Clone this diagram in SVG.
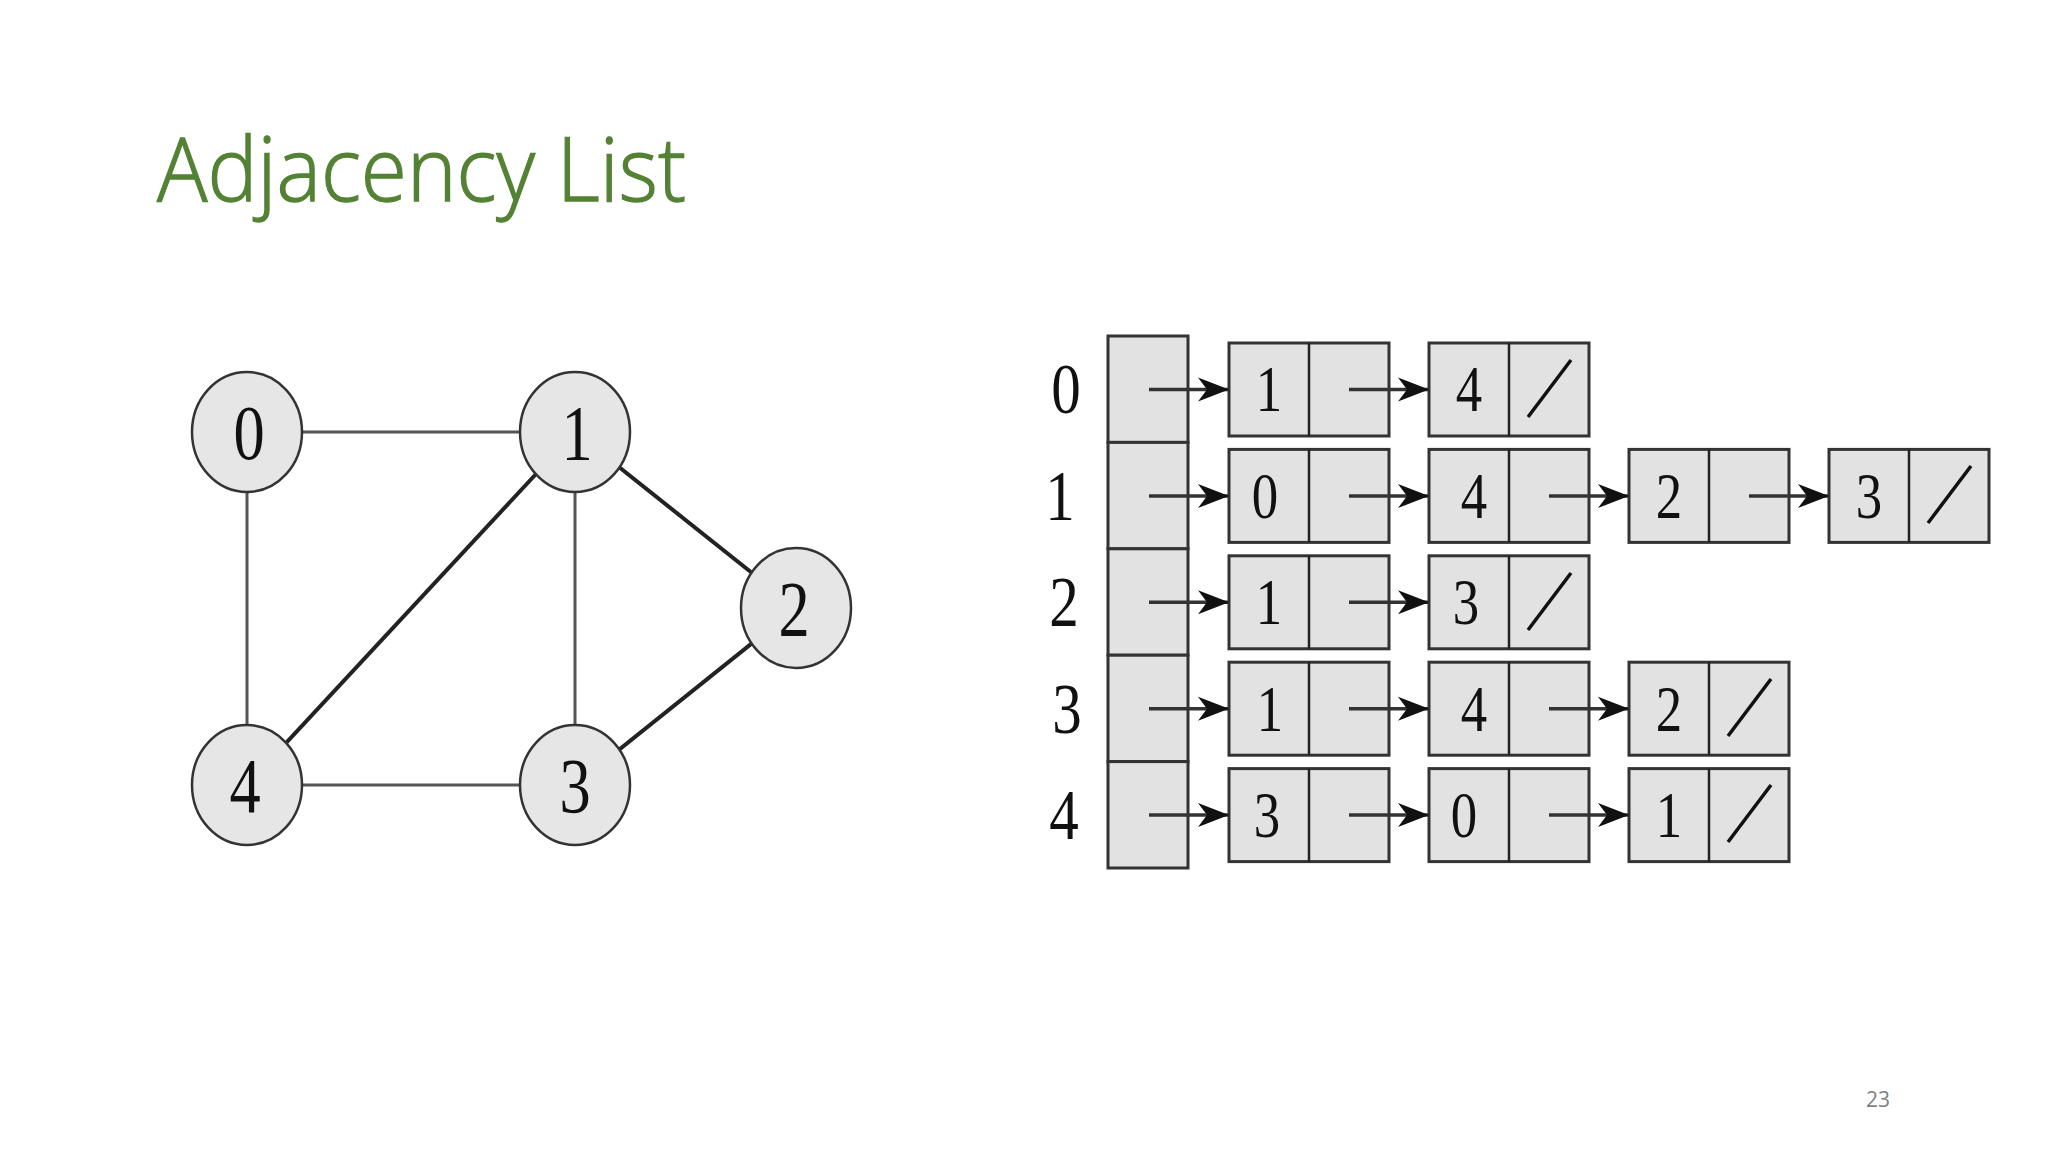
<svg xmlns="http://www.w3.org/2000/svg" width="2048" height="1152" viewBox="0 0 2048 1152">
<defs>
<style>
.title{font-family:"Open Sans","Liberation Sans",sans-serif;font-weight:300;font-size:88px;fill:#548235;stroke:#548235;stroke-width:1.3}
.pg{font-family:"Open Sans","Liberation Sans",sans-serif;font-size:21px;fill:#7f7f7f;text-anchor:middle}
.gnode{fill:#e6e6e6;stroke:#333;stroke-width:2.5}
.glabel{font-family:"Liberation Serif","Times New Roman",serif;font-size:78px;fill:#111;text-anchor:middle}
.thin{stroke:#555;stroke-width:3;fill:none}
.thick{stroke:#222;stroke-width:4;fill:none}
.cell{fill:#e2e2e2;stroke:#333;stroke-width:3}
.div{stroke:#222;stroke-width:2.5}
.num{font-family:"Liberation Serif","Times New Roman",serif;font-size:66px;fill:#111;text-anchor:middle}
.rlab{font-family:"Liberation Serif","Times New Roman",serif;font-size:72px;fill:#111;text-anchor:middle}
.arr{stroke:#333;stroke-width:3.5;fill:none;marker-end:url(#ah)}
.null{stroke:#111;stroke-width:3.5}
</style>
<marker id="ah" markerUnits="userSpaceOnUse" markerWidth="34" markerHeight="28" refX="31" refY="14" orient="auto">
<path d="M0,2 L31,14 L0,26 L9,14 Z" fill="#111"/>
</marker>
</defs>
<rect width="2048" height="1152" fill="#fff"/>
<text class="title" x="157" y="201" textLength="529" lengthAdjust="spacingAndGlyphs">Adjacency List</text>

<g id="edges">
<line class="thin" x1="247" y1="432" x2="575" y2="432"/>
<line class="thin" x1="247" y1="432" x2="247" y2="785"/>
<line class="thin" x1="575" y1="432" x2="575" y2="785"/>
<line class="thin" x1="247" y1="785" x2="575" y2="785"/>
<line class="thick" x1="575" y1="432" x2="247" y2="785"/>
<line class="thick" x1="575" y1="432" x2="796" y2="608"/>
<line class="thick" x1="575" y1="785" x2="796" y2="608"/>
</g>
<g id="node0"><ellipse class="gnode" cx="247" cy="432" rx="55" ry="60"/><text class="glabel" transform="translate(249,459) scale(0.8,1)">0</text></g>
<g id="node1"><ellipse class="gnode" cx="575" cy="432" rx="55" ry="60"/><text class="glabel" transform="translate(577,459) scale(0.8,1)">1</text></g>
<g id="node2"><ellipse class="gnode" cx="796" cy="608" rx="55" ry="60"/><text class="glabel" transform="translate(794,635) scale(0.8,1)">2</text></g>
<g id="node3"><ellipse class="gnode" cx="575" cy="785" rx="55" ry="60"/><text class="glabel" transform="translate(575,812) scale(0.8,1)">3</text></g>
<g id="node4"><ellipse class="gnode" cx="247" cy="785" rx="55" ry="60"/><text class="glabel" transform="translate(245,812) scale(0.8,1)">4</text></g>

<g id="head">
<rect class="cell" x="1108" y="336" width="80" height="106.4"/>
<rect class="cell" x="1108" y="442.4" width="80" height="106.4"/>
<rect class="cell" x="1108" y="548.8" width="80" height="106.4"/>
<rect class="cell" x="1108" y="655.2" width="80" height="106.4"/>
<rect class="cell" x="1108" y="761.6" width="80" height="106.4"/>
<text class="rlab" transform="translate(1066,413) scale(0.82,1)">0</text>
<text class="rlab" transform="translate(1060,520) scale(0.82,1)">1</text>
<text class="rlab" transform="translate(1064,626) scale(0.82,1)">2</text>
<text class="rlab" transform="translate(1067,733) scale(0.82,1)">3</text>
<text class="rlab" transform="translate(1064,839) scale(0.82,1)">4</text>
</g>

<g id="row0">
<rect class="cell" x="1229" y="343" width="160" height="93"/><line class="div" x1="1309" y1="343" x2="1309" y2="436"/><text class="num" transform="translate(1269,411) scale(0.8,1)">1</text>
<rect class="cell" x="1429" y="343" width="160" height="93"/><line class="div" x1="1509" y1="343" x2="1509" y2="436"/><text class="num" transform="translate(1469,411) scale(0.8,1)">4</text>
<line class="null" x1="1528" y1="417" x2="1571" y2="360"/>
</g>
<g id="row1">
<rect class="cell" x="1229" y="449.4" width="160" height="93"/><line class="div" x1="1309" y1="449.4" x2="1309" y2="542.4"/><text class="num" transform="translate(1265,518) scale(0.8,1)">0</text>
<rect class="cell" x="1429" y="449.4" width="160" height="93"/><line class="div" x1="1509" y1="449.4" x2="1509" y2="542.4"/><text class="num" transform="translate(1474,518) scale(0.8,1)">4</text>
<rect class="cell" x="1629" y="449.4" width="160" height="93"/><line class="div" x1="1709" y1="449.4" x2="1709" y2="542.4"/><text class="num" transform="translate(1669,518) scale(0.8,1)">2</text>
<rect class="cell" x="1829" y="449.4" width="160" height="93"/><line class="div" x1="1909" y1="449.4" x2="1909" y2="542.4"/><text class="num" transform="translate(1869,518) scale(0.8,1)">3</text>
<line class="null" x1="1928" y1="523" x2="1971" y2="466"/>
</g>
<g id="row2">
<rect class="cell" x="1229" y="555.8" width="160" height="93"/><line class="div" x1="1309" y1="555.8" x2="1309" y2="648.8"/><text class="num" transform="translate(1269,624) scale(0.8,1)">1</text>
<rect class="cell" x="1429" y="555.8" width="160" height="93"/><line class="div" x1="1509" y1="555.8" x2="1509" y2="648.8"/><text class="num" transform="translate(1466,624) scale(0.8,1)">3</text>
<line class="null" x1="1528" y1="630" x2="1571" y2="573"/>
</g>
<g id="row3">
<rect class="cell" x="1229" y="662.2" width="160" height="93"/><line class="div" x1="1309" y1="662.2" x2="1309" y2="755.2"/><text class="num" transform="translate(1270,731) scale(0.8,1)">1</text>
<rect class="cell" x="1429" y="662.2" width="160" height="93"/><line class="div" x1="1509" y1="662.2" x2="1509" y2="755.2"/><text class="num" transform="translate(1474,731) scale(0.8,1)">4</text>
<rect class="cell" x="1629" y="662.2" width="160" height="93"/><line class="div" x1="1709" y1="662.2" x2="1709" y2="755.2"/><text class="num" transform="translate(1669,731) scale(0.8,1)">2</text>
<line class="null" x1="1728" y1="736" x2="1771" y2="679"/>
</g>
<g id="row4">
<rect class="cell" x="1229" y="768.6" width="160" height="93"/><line class="div" x1="1309" y1="768.6" x2="1309" y2="861.6"/><text class="num" transform="translate(1267,837) scale(0.8,1)">3</text>
<rect class="cell" x="1429" y="768.6" width="160" height="93"/><line class="div" x1="1509" y1="768.6" x2="1509" y2="861.6"/><text class="num" transform="translate(1464,837) scale(0.8,1)">0</text>
<rect class="cell" x="1629" y="768.6" width="160" height="93"/><line class="div" x1="1709" y1="768.6" x2="1709" y2="861.6"/><text class="num" transform="translate(1669,837) scale(0.8,1)">1</text>
<line class="null" x1="1728" y1="842" x2="1771" y2="785"/>
</g>

<g id="pointers">
<line class="arr" x1="1149" y1="389.5" x2="1229" y2="389.5"/>
<line class="arr" x1="1349" y1="389.5" x2="1429" y2="389.5"/>
<line class="arr" x1="1149" y1="495.9" x2="1229" y2="495.9"/>
<line class="arr" x1="1349" y1="495.9" x2="1429" y2="495.9"/>
<line class="arr" x1="1549" y1="495.9" x2="1629" y2="495.9"/>
<line class="arr" x1="1749" y1="495.9" x2="1829" y2="495.9"/>
<line class="arr" x1="1149" y1="602.3" x2="1229" y2="602.3"/>
<line class="arr" x1="1349" y1="602.3" x2="1429" y2="602.3"/>
<line class="arr" x1="1149" y1="708.7" x2="1229" y2="708.7"/>
<line class="arr" x1="1349" y1="708.7" x2="1429" y2="708.7"/>
<line class="arr" x1="1549" y1="708.7" x2="1629" y2="708.7"/>
<line class="arr" x1="1149" y1="815.1" x2="1229" y2="815.1"/>
<line class="arr" x1="1349" y1="815.1" x2="1429" y2="815.1"/>
<line class="arr" x1="1549" y1="815.1" x2="1629" y2="815.1"/>
</g>
<text class="pg" x="1878" y="1107">23</text>
</svg>
